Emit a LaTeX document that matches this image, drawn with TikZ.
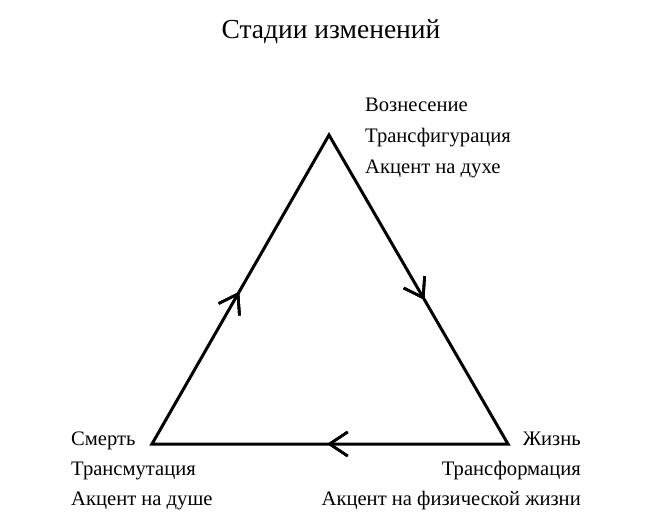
\documentclass[tikz,border=0pt]{standalone}
\usepackage{fontspec}
\setmainfont{Liberation Serif}
\usetikzlibrary{arrows.meta,decorations.markings}
\begin{document}
\begin{tikzpicture}[x=1pt,y=-1pt,
  lbl/.style={inner sep=0pt,font=\fontsize{20.6}{31}\selectfont},
  tip/.style={decoration={markings,mark=at position #1 with {\arrow{Straight Barb[length=18pt,width=24pt,line width=2.6pt]}}},postaction={decorate}}]
\useasboundingbox (0,0) rectangle (662,531);
\node[inner sep=0pt,font=\fontsize{27.5}{32}\selectfont,anchor=base] (title) at (331,38) {Стадии изменений};
\coordinate (T) at (329,135); \coordinate (R) at (508,444); \coordinate (L) at (152,444);
\draw[line width=3pt,line join=miter,tip=0.178,tip=0.503,tip=0.831] (T) -- (R) -- (L) -- cycle;
\node[lbl,anchor=base west] (t1) at (365,111) {Вознесение};
\node[lbl,anchor=base west] (t2) at (365,142) {Трансфигурация};
\node[lbl,anchor=base west] (t3) at (365,173) {Акцент на духе};
\node[lbl,anchor=base west] (l1) at (71,445) {Смерть};
\node[lbl,anchor=base west] (l2) at (71,475) {Трансмутация};
\node[lbl,anchor=base west] (l3) at (71,505) {Акцент на душе};
\node[lbl,anchor=base east] (r1) at (581,445) {Жизнь};
\node[lbl,anchor=base east] (r2) at (581,475) {Трансформация};
\node[lbl,anchor=base east] (r3) at (581,505) {Акцент на физической жизни};
\end{tikzpicture}
\end{document}
